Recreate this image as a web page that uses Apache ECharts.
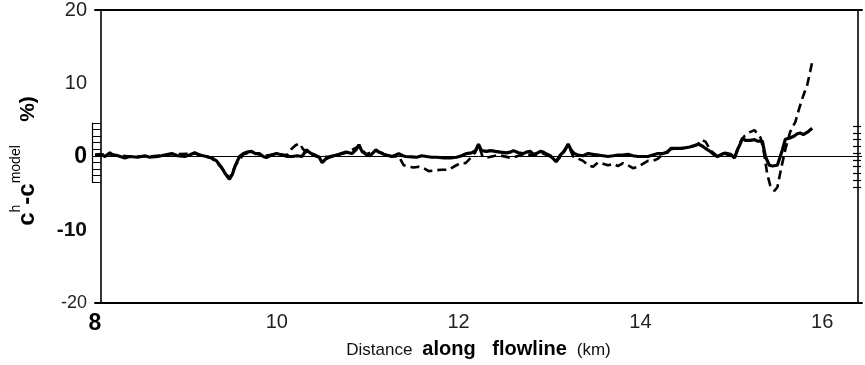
<!DOCTYPE html>
<html><head><meta charset="utf-8">
<script src="https://cdn.jsdelivr.net/npm/echarts@6/dist/echarts.min.js"></script>
<style>html,body{margin:0;padding:0;background:#fff}#c{width:865px;height:365px}</style>
</head><body><div id="c"></div>
<script>
// distance along flowline (km) and residual (%) of the solid curve
const solidX = [8.000,8.066,8.110,8.164,8.197,8.252,8.329,8.384,8.471,8.548,8.603,8.690,8.767,8.844,8.910,8.986,9.041,9.096,9.151,9.227,9.282,9.337,9.392,9.436,9.479,9.512,9.545,9.589,9.633,9.677,9.721,9.764,9.808,9.852,9.885,9.940,9.995,10.060,10.115,10.170,10.225,10.279,10.323,10.378,10.422,10.466,10.499,10.542,10.575,10.630,10.685,10.762,10.827,10.871,10.904,10.937,10.981,11.025,11.058,11.090,11.123,11.178,11.233,11.266,11.310,11.342,11.386,11.419,11.485,11.540,11.595,11.649,11.704,11.759,11.836,11.912,11.978,12.033,12.088,12.142,12.186,12.219,12.252,12.307,12.351,12.405,12.460,12.526,12.570,12.603,12.658,12.712,12.745,12.789,12.822,12.855,12.899,12.932,12.975,13.008,13.041,13.074,13.118,13.151,13.184,13.205,13.238,13.271,13.315,13.370,13.425,13.479,13.534,13.589,13.644,13.699,13.753,13.808,13.863,13.918,13.973,14.027,14.082,14.137,14.192,14.247,14.301,14.334,14.389,14.444,14.499,14.542,14.597,14.641,14.685,14.729,14.773,14.816,14.849,14.893,14.926,14.959,14.992,15.036,15.068,15.101,15.123,15.156,15.178,15.211,15.255,15.288,15.310,15.342,15.375,15.419,15.452,15.474,15.507,15.529,15.562,15.595,15.638,15.693,15.726,15.759,15.792,15.814,15.847,15.890];
const solidY = [0.2,0.3,0.0,0.5,0.2,0.1,-0.2,0.0,-0.1,0.1,-0.1,0.0,0.2,0.4,0.1,0.0,0.2,0.5,0.2,0.0,-0.2,-0.6,-1.5,-2.4,-3.1,-2.4,-1.2,0.0,0.4,0.6,0.7,0.4,0.4,0.0,-0.15,0.2,0.4,0.2,0.0,0.0,0.1,0.0,0.9,0.4,0.2,-0.1,-0.85,-0.3,-0.1,0.1,0.3,0.6,0.4,0.9,1.6,0.7,0.3,0.1,0.5,0.9,0.6,0.3,0.1,0.0,0.2,0.4,0.1,0.0,-0.05,-0.1,0.1,0.0,-0.1,-0.1,-0.2,-0.2,-0.1,0.1,0.4,0.5,0.8,1.7,0.8,0.7,0.8,0.7,0.6,0.5,0.6,0.8,0.5,0.4,0.6,0.7,0.3,0.4,0.7,0.6,0.3,0.1,-0.3,-0.7,0.2,0.6,1.2,1.7,0.9,0.4,0.2,0.1,0.4,0.3,0.2,0.1,0.0,0.1,0.2,0.2,0.3,0.1,0.0,0.0,0.0,0.2,0.4,0.4,0.6,1.1,1.1,1.1,1.2,1.3,1.5,1.7,1.4,1.0,0.65,0.2,0.0,0.3,0.45,0.4,0.3,-0.2,0.9,1.8,2.5,2.2,2.0,2.2,2.3,2.1,2.0,2.1,0.0,-1.2,-1.3,-1.4,-1.2,-1.0,0.9,2.35,2.5,2.8,3.1,3.2,3.0,3.1,3.4,3.85];
// dashed curve
const dashX = [8.000,8.164,8.384,8.603,8.844,9.096,9.282,9.392,9.479,9.545,9.633,9.721,9.852,9.995,10.115,10.159,10.203,10.247,10.290,10.356,10.466,10.575,10.762,10.904,10.981,11.090,11.266,11.342,11.397,11.452,11.507,11.562,11.616,11.671,11.737,11.814,11.890,11.945,12.022,12.077,12.131,12.186,12.219,12.263,12.329,12.438,12.581,12.712,12.822,12.932,13.008,13.074,13.151,13.205,13.260,13.315,13.370,13.425,13.479,13.534,13.589,13.644,13.699,13.753,13.808,13.863,13.918,13.973,14.027,14.082,14.137,14.192,14.247,14.334,14.444,14.542,14.630,14.674,14.718,14.773,14.849,14.926,15.036,15.101,15.145,15.200,15.255,15.321,15.353,15.397,15.430,15.474,15.507,15.551,15.595,15.649,15.704,15.748,15.792,15.836,15.868,15.890];
const dashY = [0.2,0.3,0.0,0.0,0.3,0.4,-0.2,-1.5,-3.0,-1.2,0.3,0.6,0.1,0.3,0.2,1.0,1.5,1.8,1.0,0.3,-0.1,0.0,0.5,1.4,0.3,0.8,0.0,0.0,-1.2,-1.4,-1.5,-1.4,-1.6,-2.0,-1.9,-1.8,-1.8,-1.4,-0.9,-0.9,-0.2,0.6,1.6,0.0,-0.1,0.2,-0.2,0.3,0.2,0.4,0.0,-0.7,0.4,1.6,0.0,-0.3,-0.6,-1.2,-1.4,-0.8,-1.0,-1.2,-1.0,-1.3,-0.9,-1.2,-1.6,-1.4,-1.0,-0.6,-0.6,-0.3,0.3,1.0,1.1,1.3,1.6,2.3,2.0,0.8,0.0,0.4,-0.1,2.0,2.8,3.3,3.6,2.6,1.0,-2.5,-4.0,-4.7,-4.2,-1.5,1.0,3.4,4.7,6.6,8.3,9.8,11.6,12.9];
const xTickValues = [8, 10, 12, 14, 16];
const yTickValues = [-20, -10, 0, 10, 20];

const FONT = 'Liberation Sans, Arial, sans-serif';
const chart = echarts.init(document.getElementById('c'), null, {renderer: 'canvas'});
const black = {color: '#000', width: 1.6};

const option = {
  animation: false,
  backgroundColor: '#fff',
  grid: [
    {left: 95, right: 0, top: 10, bottom: 62},
    {left: 92, width: 9, top: 123, height: 59},
    {left: 853, width: 8, top: 126, height: 61}
  ],
  xAxis: [
    {gridIndex: 0, type: 'value', min: 8, max: 16.438, interval: 2, position: 'bottom',
     axisLine: {show: true, onZero: false, lineStyle: {color: '#000', width: 2}}, axisTick: {show: false}, splitLine: {show: false},
     axisLabel: {margin: 9, fontFamily: FONT,
       formatter: v => {
         if (!xTickValues.includes(v)) return '';
         return v === 8 ? '{b|' + v + '}' : '{n|' + v + '}';
       },
       rich: {b: {fontSize: 23, fontWeight: 'bold', color: '#000', fontFamily: FONT},
              n: {fontSize: 20, color: '#222', fontFamily: FONT}}},
     name: '{n|Distance}   {b|along   flowline}   {n|(km)}', nameLocation: 'middle', nameGap: 34,
     nameTextStyle: {rich: {n: {fontSize: 17, color: '#111', fontFamily: FONT},
                            b: {fontSize: 20, fontWeight: 'bold', color: '#000', fontFamily: FONT}}}},
    {gridIndex: 0, type: 'value', min: 8, max: 16.438, position: 'top',
     axisLine: {show: true, onZero: false, lineStyle: {color: '#000', width: 2}}, axisTick: {show: false},
     axisLabel: {show: false}, splitLine: {show: false}},
    {gridIndex: 1, type: 'value', min: 0, max: 1, show: false},
    {gridIndex: 2, type: 'value', min: 0, max: 1, show: false}
  ],
  yAxis: [
    {gridIndex: 0, type: 'value', min: -20, max: 20, interval: 10, position: 'left', offset: -6,
     axisLine: {show: true, onZero: false, lineStyle: black}, axisTick: {show: false}, splitLine: {show: false},
     axisLabel: {margin: 14, fontFamily: FONT,
       formatter: v => {
         if (v === 0) return '{z|0}';
         if (v === -10) return '{m|-10}';
         if (v === -20) return '{s|-20}';
         return '{n|' + v + '}';
       },
       rich: {z: {fontSize: 23, fontWeight: 'bold', color: '#000', fontFamily: FONT},
              m: {fontSize: 21, fontWeight: 'bold', color: '#111', fontFamily: FONT},
              s: {fontSize: 18, color: '#222', fontFamily: FONT},
              n: {fontSize: 20, color: '#222', fontFamily: FONT}}},
     name: '{c|c}{u|h}{c|-c}{u|model}{p|    %)}', nameLocation: 'middle', nameRotate: 90, nameGap: 62,
     nameTextStyle: {padding: [0, 9, 0, 0], rich: {
       c: {fontSize: 24, fontWeight: 'bold', color: '#000', fontFamily: FONT, lineHeight: 30, verticalAlign: 'bottom'},
       u: {fontSize: 14, color: '#000', fontFamily: FONT, lineHeight: 30, verticalAlign: 'top'},
       p: {fontSize: 21, fontWeight: 'bold', color: '#000', fontFamily: FONT, lineHeight: 30, verticalAlign: 'bottom'}}}},
    {gridIndex: 0, type: 'value', min: -20, max: 20, position: 'right', offset: -4,
     axisLine: {show: true, onZero: false, lineStyle: black}, axisTick: {show: false}, axisLabel: {show: false}, splitLine: {show: false}},
    {gridIndex: 1, type: 'value', min: 0, max: 9, interval: 1, position: 'left',
     axisLine: {show: true, onZero: false, lineStyle: {color: '#000', width: 1.2}}, axisTick: {show: false}, axisLabel: {show: false},
     splitLine: {show: true, lineStyle: {color: '#000', width: 1}}},
    {gridIndex: 2, type: 'value', min: 0, max: 9, interval: 1, position: 'right',
     axisLine: {show: false}, axisTick: {show: false}, axisLabel: {show: false},
     splitLine: {show: true, lineStyle: {color: '#000', width: 1.2}}}
  ],
  series: [
    {type: 'line', name: 'dashed', xAxisIndex: 0, yAxisIndex: 0, symbol: 'none', z: 3,
     data: dashX.map((x, i) => [x, dashY[i]]),
     lineStyle: {color: '#000', width: 2.6, type: [9, 5]}},
    {type: 'line', name: 'solid', xAxisIndex: 0, yAxisIndex: 0, symbol: 'none', z: 4,
     data: solidX.map((x, i) => [x, solidY[i]]),
     lineStyle: {color: '#000', width: 3.2},
     markLine: {silent: true, symbol: ['none', 'none'], label: {show: false},
       lineStyle: {color: '#000', width: 1, type: 'solid'}, data: [{yAxis: 0}]}}
  ]
};
chart.setOption(option);
</script>
</body></html>
